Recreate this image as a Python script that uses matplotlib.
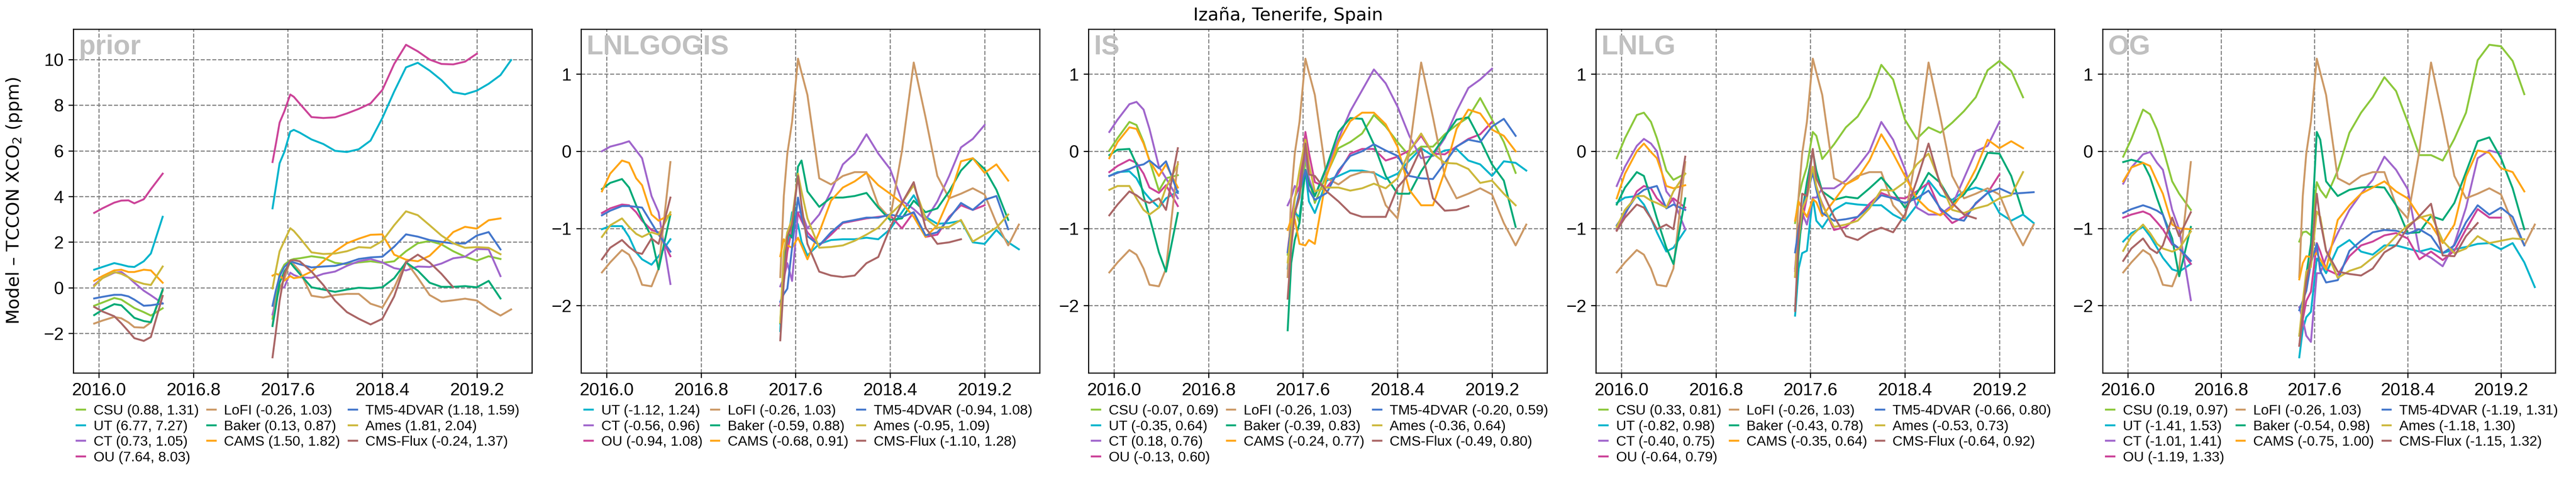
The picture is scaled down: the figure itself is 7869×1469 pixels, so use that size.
import numpy as np
import matplotlib
matplotlib.use("Agg")
import matplotlib.pyplot as plt

nan = np.nan

# decimal-year sample times for the two observation periods
t_early = [2015.96, 2016.03, 2016.13, 2016.19, 2016.25, 2016.30, 2016.38, 2016.44, 2016.54]
t_late = [2017.47, 2017.50, 2017.53, 2017.57, 2017.62, 2017.65, 2017.70, 2017.80, 2017.90,
          2018.00, 2018.10, 2018.20, 2018.30, 2018.40, 2018.50, 2018.60, 2018.70, 2018.80,
          2018.90, 2019.00, 2019.10, 2019.20, 2019.30, 2019.40, 2019.49]

models = ["CSU", "UT", "CT", "OU", "LoFI", "Baker", "CAMS", "TM5-4DVAR", "Ames", "CMS-Flux"]
colors = {"CSU": "#8cc83c", "UT": "#00b4cc", "CT": "#a066cc", "OU": "#cc4499",
          "LoFI": "#cc9966", "Baker": "#00aa77", "CAMS": "#ffa516",
          "TM5-4DVAR": "#4477cc", "Ames": "#ccb83c", "CMS-Flux": "#aa6666"}

# LoFI is identical in every panel (first 9 values = early period, rest = late period)
lofi = [-1.57, -1.44, -1.28, -1.34, -1.52, -1.73, -1.75, -1.52, -0.14,
        -1.63, -0.58, -0.03, 0.38, 1.20, 1.02, 0.73, -0.35, -0.43, -0.32, -0.27, -0.27, -0.70,
        -0.87, 0.00, 1.15, 0.44, -0.32, -0.61, -0.55, -0.48, -0.56, -0.93, -1.22, -0.95]

# ---- prior ----
prior_csu = [-0.79, -0.65, -0.45, -0.52, -0.72, -0.89, -1.07, -1.22, -0.90,
             -1.36, -0.28, 0.61, 1.01, 1.21, 1.26, 1.29, 1.38, 1.31, 1.09, 1.03, 1.11, 1.16,
             1.09, 1.16, 1.60, 1.95, 2.05, 1.90, 1.60, 1.36, 1.19, 1.38, 1.26, nan]
prior_ut = [0.79, 0.91, 1.08, 1.01, 0.93, 0.91, 1.16, 1.50, 3.11,
            3.48, 4.47, 5.46, 5.95, 6.84, 6.92, 6.80, 6.50, 6.30, 6.00, 5.95, 6.07, 6.45,
            7.44, 8.60, 9.66, 9.86, 9.52, 9.10, 8.57, 8.48, 8.64, 8.94, 9.32, 9.98]
prior_ct = [0.12, 0.42, 0.66, 0.69, 0.46, 0.22, -0.13, -0.33, -0.69,
            -1.17, -0.57, -0.03, 0.02, 0.66, 0.56, 0.46, 0.43, 0.61, 0.71, 0.96, 1.16, 1.26,
            1.11, 0.86, 0.76, 0.93, 0.91, 1.06, 1.29, 1.36, 1.70, 1.68, 0.51, nan]
prior_ou = [3.28, 3.48, 3.73, 3.82, 3.83, 3.70, 3.88, 4.32, 5.00,
            5.51, 6.35, 7.24, 7.73, 8.47, 8.37, 8.07, 7.48, 7.44, 7.47, 7.64, 7.84, 8.08,
            8.67, 9.81, 10.65, 10.36, 10.00, 9.81, 9.79, 9.91, 10.26, nan, nan, nan]
prior_baker = [-1.20, -0.97, -0.72, -0.77, -1.07, -1.32, -1.46, -1.51, -0.08,
               -1.68, -0.77, 0.22, 0.71, 1.11, 0.91, 0.61, 0.02, -0.08, -0.18, -0.08, 0.00,
               -0.03, 0.02, 0.42, 1.11, 0.75, 0.22, 0.04, 0.04, 0.07, 0.02, 0.30, -0.47, nan]
prior_cams = [0.30, 0.51, 0.76, 0.79, 0.69, 0.69, 0.79, 0.76, 0.22,
              0.53, 0.61, 0.56, 0.31, 0.51, 0.42, 0.46, 0.71, 1.16, 1.60, 1.95, 2.15, 2.32,
              2.34, 1.45, 1.23, 1.16, 1.40, 1.90, 2.44, 2.67, 2.59, 2.96, 3.04, nan]
prior_tm5 = [-0.47, -0.40, -0.31, -0.31, -0.38, -0.52, -0.79, -0.77, -0.69,
             -0.79, -0.08, 0.51, 0.91, 1.16, 1.11, 1.03, 0.89, 0.93, 0.96, 1.09, 1.26, 1.33,
             1.36, 1.80, 2.34, 2.24, 2.09, 2.01, 1.94, 1.94, 2.29, 2.44, 1.68, nan]
prior_ames = [0.07, 0.42, 0.69, 0.61, 0.46, 0.30, 0.17, 0.12, 0.93,
              -0.03, 0.81, 1.60, 2.05, 2.61, 2.49, 2.19, 1.55, 1.48, 1.50, 1.60, 1.78, 1.75,
              2.05, 2.74, 3.35, 3.18, 2.74, 2.29, 1.95, 1.75, 1.78, 1.75, 1.47, nan]
prior_cms = [-0.84, -1.04, -1.25, -1.56, -1.91, -2.21, -2.33, -2.16, -0.36,
             -3.05, -1.86, -0.57, 0.61, 1.19, 1.21, 1.16, 0.71, 0.12, -0.57, -1.07, -1.36,
             -1.61, -1.36, -0.38, 1.11, 1.45, 1.11, 0.61, 0.02, nan, nan, nan, nan, nan]
prior_stats = [(0.88, 1.31), (6.77, 7.27), (0.73, 1.05), (7.64, 8.03), (-0.26, 1.03),
               (0.13, 0.87), (1.50, 1.82), (1.18, 1.59), (1.81, 2.04), (-0.24, 1.37)]

# ---- LNLGOGIS (no CSU) ----
lnlgogis_ut = [-1.01, -0.97, -0.97, -1.11, -1.31, -1.40, -1.47, -1.36, -1.14,
               -2.33, -1.45, -1.20, -0.79, -0.95, -1.17, -1.35, -1.20, -1.15, -1.14, -1.14,
               -1.12, -1.14, -1.01, -0.79, -0.57, -0.85, -0.94, -0.93, -0.90, -1.18, -1.20,
               -1.02, -1.18, -1.27]
lnlgogis_ct = [0.00, 0.06, 0.10, 0.13, 0.01, -0.09, -0.58, -0.79, -1.72,
               -1.75, -1.64, -1.45, -1.68, -0.79, -0.79, -1.00, -0.82, -0.52, -0.17, -0.03,
               0.22, -0.03, -0.23, -0.64, -0.75, -0.89, -0.65, -0.32, 0.05, 0.16, 0.34,
               nan, nan, nan]
lnlgogis_ou = [-0.80, -0.74, -0.69, -0.70, -0.79, -0.90, -1.02, -1.05, -1.36,
               -2.00, -1.70, -1.30, -1.00, -0.80, -0.90, -1.05, -1.22, -1.08, -0.93, -0.90,
               -0.87, -0.85, -0.83, -1.00, -0.79, -1.11, -1.08, -0.85, -0.70, -0.76, -0.70,
               nan, nan, nan]
lnlgogis_baker = [-0.49, -0.41, -0.36, -0.47, -0.70, -0.87, -1.11, -1.53, -0.82,
                  -2.23, -1.42, -1.05, -1.12, -0.20, -0.12, -0.52, -0.72, -0.60, -0.60, -0.58,
                  -0.54, -0.73, -0.89, -0.87, -0.64, -0.79, -0.74, -0.52, -0.25, -0.09, -0.23,
                  -0.50, -0.89, nan]
lnlgogis_cams = [-0.52, -0.29, -0.12, -0.15, -0.35, -0.44, -0.82, -0.90, -0.82,
                 -1.36, -1.14, -1.22, -1.25, -1.12, -1.22, -1.40, -1.05, -0.64, -0.47, -0.39,
                 -0.28, -0.44, -0.55, -0.67, -0.85, -1.11, -0.96, -0.61, -0.13, -0.09, -0.28,
                 -0.17, -0.38, nan]
lnlgogis_tm5 = [-0.83, -0.77, -0.71, -0.71, -0.72, -0.73, -0.93, -1.08, -1.30,
                -1.95, -1.85, -1.78, -1.25, -0.60, -0.85, -1.10, -1.22, -1.05, -0.92, -0.89,
                -0.86, -0.86, -0.82, -0.85, -0.79, -1.09, -1.05, -0.87, -0.67, -0.76, -0.63,
                -0.58, -1.01, nan]
lnlgogis_ames = [-1.11, -0.96, -0.87, -0.98, -1.07, -1.11, -1.05, -1.08, -0.79,
                 -2.22, -1.30, -1.05, -0.88, -0.29, -0.52, -0.87, -1.25, -1.24, -1.22, -1.16,
                 -1.08, -0.99, -0.82, -0.67, -0.44, -0.87, -0.99, -0.98, -0.89, -1.17, -1.08,
                 -0.99, -0.82, nan]
lnlgogis_cms = [-1.40, -1.25, -1.15, -1.24, -1.31, -1.33, -1.13, -1.20, -0.60,
                -2.45, -1.70, -1.11, -0.95, -0.32, -0.70, -1.20, -1.56, -1.61, -1.63, -1.61,
                -1.45, -1.37, -0.99, -0.67, -0.40, -0.99, -1.20, -1.18, -1.14, nan, nan, nan,
                nan, nan]
lnlgogis_stats = [(-1.12, 1.24), (-0.56, 0.96), (-0.94, 1.08), (-0.26, 1.03), (-0.59, 0.88),
                  (-0.68, 0.91), (-0.94, 1.08), (-0.95, 1.09), (-1.10, 1.28)]

# ---- IS ----
is_csu = [0.01, 0.17, 0.38, 0.34, 0.12, -0.12, -0.51, -0.35, -0.31,
          -1.34, -0.90, -0.75, -0.93, -0.10, -0.35, -0.67, -0.30, 0.04, 0.12, 0.23, 0.47,
          0.32, 0.12, -0.06, 0.06, 0.06, 0.22, 0.34, 0.44, 0.69, 0.41, 0.12, -0.28, nan]
is_ut = [-0.32, -0.27, -0.26, -0.35, -0.52, -0.61, -0.73, -0.61, -0.52,
         -1.52, -1.00, -0.80, -0.85, -0.25, -0.65, -0.80, -0.38, -0.32, -0.25, -0.25, -0.28,
         -0.36, -0.29, -0.12, 0.04, -0.06, 0.01, 0.03, -0.12, -0.17, -0.32, -0.13, -0.15, -0.25]
is_ct = [0.25, 0.41, 0.61, 0.64, 0.54, 0.29, -0.20, -0.35, -0.61,
         -0.70, -0.60, -0.45, -0.52, -0.03, -0.35, -0.58, -0.23, 0.16, 0.52, 0.79, 1.06, 0.88,
         0.58, 0.20, -0.09, -0.06, 0.17, 0.52, 0.82, 0.93, 1.07, nan, nan, nan]
is_ou = [-0.27, -0.19, -0.11, -0.15, -0.29, -0.47, -0.54, -0.44, -0.71,
         -1.30, -0.90, -0.60, -0.45, 0.25, -0.02, -0.40, -0.47, -0.28, -0.03, 0.03, 0.03,
         -0.12, -0.07, 0.01, 0.20, -0.03, -0.04, 0.06, 0.16, 0.22, 0.38, nan, nan, nan]
is_baker = [-0.05, 0.02, 0.03, -0.17, -0.58, -0.85, -1.31, -1.56, -0.80,
            -2.32, -1.45, -1.15, -0.93, -0.24, -0.41, -0.58, -0.20, 0.25, 0.43, 0.42, 0.09,
            -0.32, -0.55, -0.55, -0.26, -0.03, 0.19, 0.41, 0.44, 0.15, -0.17, -0.38, -0.98, nan]
is_cams = [-0.09, 0.12, 0.31, 0.29, 0.10, -0.12, -0.32, -0.17, -0.47,
           -1.02, -0.88, -0.88, -1.20, -1.22, -1.15, -1.20, -0.32, 0.12, 0.39, 0.50, 0.50,
           0.35, 0.06, -0.50, -0.70, -0.70, -0.26, 0.29, 0.54, 0.49, 0.28, 0.20, 0.00, nan]
is_tm5 = [-0.32, -0.28, -0.23, -0.19, -0.17, -0.12, -0.22, -0.13, -0.54,
          -1.31, -1.00, -0.80, -0.53, -0.25, -0.50, -0.63, -0.54, -0.25, -0.06, 0.00, 0.09,
          0.01, -0.06, -0.32, -0.35, -0.36, -0.15, 0.06, 0.15, 0.12, 0.32, 0.42, 0.20, nan]
is_ames = [-0.50, -0.45, -0.45, -0.61, -0.76, -0.82, -0.73, -0.47, -0.17,
           -1.44, -1.05, -0.62, -0.25, 0.15, -0.17, -0.52, -0.47, -0.47, -0.51, -0.48, -0.42,
           -0.48, -0.35, 0.00, 0.23, -0.03, -0.15, -0.16, -0.23, -0.41, -0.38, -0.55, -0.70, nan]
is_cms = [-0.83, -0.69, -0.52, -0.57, -0.64, -0.67, -0.61, -0.76, 0.04,
          -1.91, -1.25, -0.80, -0.60, 0.10, -0.30, -0.32, -0.52, -0.65, -0.80, -0.85, -0.85,
          -0.85, -0.47, -0.29, 0.04, -0.61, -0.77, -0.76, -0.71, nan, nan, nan, nan, nan]
is_stats = [(-0.07, 0.69), (-0.35, 0.64), (0.18, 0.76), (-0.13, 0.60), (-0.26, 1.03),
            (-0.39, 0.83), (-0.24, 0.77), (-0.20, 0.59), (-0.36, 0.64), (-0.49, 0.80)]

# ---- LNLG ----
lnlg_csu = [-0.09, 0.17, 0.47, 0.50, 0.38, 0.17, -0.25, -0.37, -0.29,
            -0.93, -0.60, -0.40, -0.20, 0.25, 0.20, -0.10, 0.09, 0.31, 0.45, 0.70, 1.12, 0.93,
            0.41, 0.16, 0.31, 0.24, 0.37, 0.52, 0.70, 1.05, 1.17, 1.04, 0.70, nan]
lnlg_ut = [-0.67, -0.60, -0.58, -0.69, -0.87, -1.05, -1.30, -1.25, -1.02,
           -2.13, -1.52, -1.32, -1.29, -0.60, -0.90, -0.99, -0.76, -0.67, -0.69, -0.70, -0.70,
           -0.82, -0.90, -0.70, -0.38, -0.57, -0.63, -0.52, -0.47, -0.52, -0.80, -0.90, -0.82,
           -0.93]
lnlg_ct = [-0.45, -0.20, 0.07, 0.16, 0.10, 0.00, -0.52, -0.64, -1.01,
           -1.52, -1.00, -0.80, -0.95, -0.60, -0.60, -0.48, -0.48, -0.38, -0.20, 0.00, 0.38,
           0.15, -0.23, -0.73, -0.82, -0.82, -0.70, -0.35, 0.00, 0.07, 0.38, nan, nan, nan]
lnlg_ou = [-1.02, -0.82, -0.52, -0.45, -0.48, -0.61, -0.73, -0.61, -0.73,
           -1.55, -1.20, -0.90, -0.60, -0.25, -0.48, -0.68, -1.02, -0.98, -0.85, -0.68, -0.54,
           -0.60, -0.61, -0.52, -0.41, -0.76, -0.93, -0.85, -0.68, -0.54, -0.30, nan, nan, nan]
lnlg_baker = [-0.69, -0.47, -0.27, -0.32, -0.61, -0.87, -1.25, -1.46, -0.61,
              -2.05, -1.30, -0.80, -0.40, 0.00, -0.25, -0.52, -0.63, -0.59, -0.61, -0.48,
              -0.34, -0.52, -0.73, -0.55, -0.28, -0.41, -0.67, -0.56, -0.35, -0.02, -0.03,
              -0.32, -0.80, nan]
lnlg_cams = [-0.61, -0.29, 0.00, 0.10, -0.01, -0.09, -0.45, -0.48, -0.44,
             -0.90, -0.65, -0.75, -0.85, -0.62, -0.66, -0.84, -0.64, -0.43, -0.35, -0.12, 0.22,
             -0.03, -0.32, -0.61, -0.76, -0.83, -0.73, -0.52, -0.23, 0.15, 0.04, 0.13, 0.04, nan]
lnlg_tm5 = [-0.96, -0.80, -0.57, -0.50, -0.47, -0.45, -0.74, -0.69, -0.76,
            -1.31, -1.00, -0.75, -0.55, -0.28, -0.50, -0.80, -0.90, -0.88, -0.85, -0.72, -0.57,
            -0.61, -0.67, -0.61, -0.51, -0.74, -0.87, -0.90, -0.67, -0.54, -0.48, -0.55, -0.54,
            -0.53]
lnlg_ames = [-0.98, -0.76, -0.58, -0.58, -0.64, -0.67, -0.73, -0.52, -0.29,
             -1.62, -1.15, -0.75, -0.60, -0.20, -0.45, -0.70, -0.98, -0.95, -0.90, -0.74, -0.50,
             -0.51, -0.40, -0.17, -0.03, -0.41, -0.76, -0.80, -0.74, -0.70, -0.61, -0.57, -0.27,
             nan]
lnlg_cms = [-1.03, -0.86, -0.69, -0.73, -0.87, -1.01, -0.95, -1.01, -0.07,
            -2.07, -1.10, -0.55, -0.58, 0.03, -0.35, -0.52, -0.85, -1.10, -1.15, -1.05, -0.99,
            -1.05, -0.82, -0.38, 0.10, -0.44, -0.67, -0.82, -0.87, nan, nan, nan, nan, nan]
lnlg_stats = [(0.33, 0.81), (-0.82, 0.98), (-0.40, 0.75), (-0.64, 0.79), (-0.26, 1.03),
              (-0.43, 0.78), (-0.35, 0.64), (-0.66, 0.80), (-0.53, 0.73), (-0.64, 0.92)]

# ---- OG ----
og_csu = [-0.07, 0.16, 0.54, 0.48, 0.28, 0.04, -0.39, -0.55, -0.76,
          -1.17, -1.05, -1.04, -1.09, -0.40, -0.50, -0.60, -0.25, 0.24, 0.50, 0.70, 0.96, 0.78,
          0.38, -0.05, -0.05, -0.12, 0.16, 0.50, 1.18, 1.38, 1.36, 1.17, 0.74, nan]
og_ut = [-1.17, -1.06, -0.98, -1.10, -1.25, -1.38, -1.53, -1.56, -1.46,
         -2.67, -2.31, -2.15, -2.08, -1.39, -1.45, -1.58, -1.25, -1.15, -1.30, -1.34, -1.22,
         -1.22, -1.26, -1.30, -1.26, -1.32, -1.27, -1.24, -1.20, -1.19, -1.27, -1.19, -1.44,
         -1.76]
og_ct = [-0.42, -0.21, -0.04, -0.01, -0.15, -0.24, -0.76, -1.01, -1.93,
         -2.02, -2.18, -2.39, -2.47, -1.58, -1.58, -1.38, -1.06, -0.76, -0.55, -0.37, -0.07,
         -0.24, -0.49, -1.30, -1.38, -1.49, -1.20, -0.73, -0.09, 0.01, -0.03, nan, nan, nan]
og_ou = [-0.86, -0.82, -0.78, -0.82, -0.92, -1.01, -1.21, -1.26, -1.46,
         -2.52, -2.18, -1.94, -1.82, -1.19, -1.30, -1.53, -1.60, -1.36, -1.22, -1.17, -1.09,
         -1.06, -1.13, -1.40, -1.30, -1.41, -1.29, -1.01, -0.75, -0.86, -0.86, nan, nan, nan]
og_baker = [-0.14, -0.11, -0.15, -0.33, -0.61, -0.82, -1.13, -1.62, -0.98,
            -2.39, -2.05, -1.60, -1.20, 0.25, 0.15, -0.39, -0.58, -0.50, -0.47, -0.46, -0.47,
            -0.70, -1.06, -1.05, -0.84, -0.89, -0.67, -0.27, 0.13, 0.18, -0.09, -0.48, -1.01, nan]
og_cams = [-0.39, -0.21, -0.15, -0.19, -0.39, -0.55, -0.95, -1.00, -1.01,
           -1.66, -1.45, -1.36, -1.37, -1.32, -1.40, -1.53, -0.89, -0.70, -0.55, -0.47, -0.39,
           -0.52, -0.61, -0.84, -0.95, -1.19, -0.95, -0.33, 0.01, -0.02, -0.22, -0.27, -0.52, nan]
og_tm5 = [-0.80, -0.75, -0.70, -0.73, -0.77, -0.82, -1.19, -1.26, -1.42,
          -2.06, -1.94, -1.81, -1.45, -1.20, -1.55, -1.70, -1.67, -1.29, -1.16, -1.05, -1.02,
          -1.03, -1.07, -1.01, -1.10, -1.32, -1.22, -0.92, -0.70, -0.82, -0.73, -0.85, -1.22, nan]
og_ames = [-1.29, -1.10, -0.95, -1.06, -1.20, -1.26, -1.30, -1.26, -1.04,
           -2.39, -1.95, -1.56, -1.50, -0.78, -0.85, -1.29, -1.64, -1.55, -1.50, -1.38, -1.26,
           -1.10, -0.96, -0.86, -0.82, -1.16, -1.32, -1.26, -1.10, -1.19, -1.16, -1.13, -1.14, nan]
og_cms = [-1.42, -1.26, -1.13, -1.26, -1.32, -1.22, -0.86, -1.10, -0.79,
          -2.52, -2.10, -1.68, -1.40, -0.55, -0.90, -1.29, -1.56, -1.59, -1.61, -1.52, -1.31,
          -1.22, -0.99, -0.84, -0.68, -1.35, -1.36, -1.10, -0.93, nan, nan, nan, nan, nan]
og_stats = [(0.19, 0.97), (-1.41, 1.53), (-1.01, 1.41), (-1.19, 1.33), (-0.26, 1.03),
            (-0.54, 0.98), (-0.75, 1.00), (-1.19, 1.31), (-1.18, 1.30), (-1.15, 1.32)]

panels = [
    ("prior", [prior_csu, prior_ut, prior_ct, prior_ou, lofi, prior_baker, prior_cams,
               prior_tm5, prior_ames, prior_cms], models, prior_stats),
    ("LNLGOGIS", [lnlgogis_ut, lnlgogis_ct, lnlgogis_ou, lofi, lnlgogis_baker, lnlgogis_cams,
                  lnlgogis_tm5, lnlgogis_ames, lnlgogis_cms], models[1:], lnlgogis_stats),
    ("IS", [is_csu, is_ut, is_ct, is_ou, lofi, is_baker, is_cams, is_tm5, is_ames, is_cms],
     models, is_stats),
    ("LNLG", [lnlg_csu, lnlg_ut, lnlg_ct, lnlg_ou, lofi, lnlg_baker, lnlg_cams, lnlg_tm5,
              lnlg_ames, lnlg_cms], models, lnlg_stats),
    ("OG", [og_csu, og_ut, og_ct, og_ou, lofi, og_baker, og_cams, og_tm5, og_ames, og_cms],
     models, og_stats),
]

plt.rcParams['font.family'] = ['Liberation Sans', 'DejaVu Sans']

W, H = 7869, 1469
fig = plt.figure(figsize=(W / 300, H / 300), dpi=300)

# axes boxes in pixels (left, width)
lefts = [224, 1775, 3325, 4875, 6423]
widths = [1401, 1401, 1401, 1401, 1383]
ax_bottom, ax_height = (H - 1139) / H, 1050 / H

x = np.r_[t_early, nan, t_late]
xticks = [2016.0, 2016.8, 2017.6, 2018.4, 2019.2]

axes = []
for i, (name, series, names, stats) in enumerate(panels):
    share = axes[1] if i > 1 else None
    ax = fig.add_axes([lefts[i] / W, ax_bottom, widths[i] / W, ax_height], sharey=share)
    axes.append(ax)
    for vals, m, (b, s) in zip(series, names, stats):
        y = np.r_[vals[:9], nan, vals[9:]]
        ax.plot(x, y, color=colors[m], lw=1.4, label=f"{m} ({b:.2f}, {s:.2f})")

    ax.set_xticks(xticks)
    ax.set_xticklabels([f"{t:.1f}" for t in xticks])
    if i == 0:
        ax.set_yticks([-2, 0, 2, 4, 6, 8, 10])
    else:
        ax.set_yticks([-2, -1, 0, 1])
    ax.tick_params(labelsize=13)
    ax.grid(True, ls='--', color='0.5', lw=0.8)

    ax.text(0.012, 0.985, name, transform=ax.transAxes, ha='left', va='top',
            fontsize=20, fontweight='bold', color='#c0c0c0')

    ax.legend(loc='upper left', bbox_to_anchor=(-0.005, -0.075), ncol=3, frameon=False,
              fontsize=10.3, handlelength=0.6, handletextpad=0.6, columnspacing=0.6,
              labelspacing=0.18, borderaxespad=0)

axes[0].set_ylabel("Model \u2013 TCCON XCO$_2$ (ppm)", fontsize=13, family='DejaVu Sans')
axes[0].yaxis.set_label_coords(-0.109, 0.5)

fig.text(0.5, 1 - 62 / H, "Izaña, Tenerife, Spain", ha='center', va='baseline',
         fontsize=13, family='DejaVu Sans')

fig.savefig("out.png", dpi=300)
